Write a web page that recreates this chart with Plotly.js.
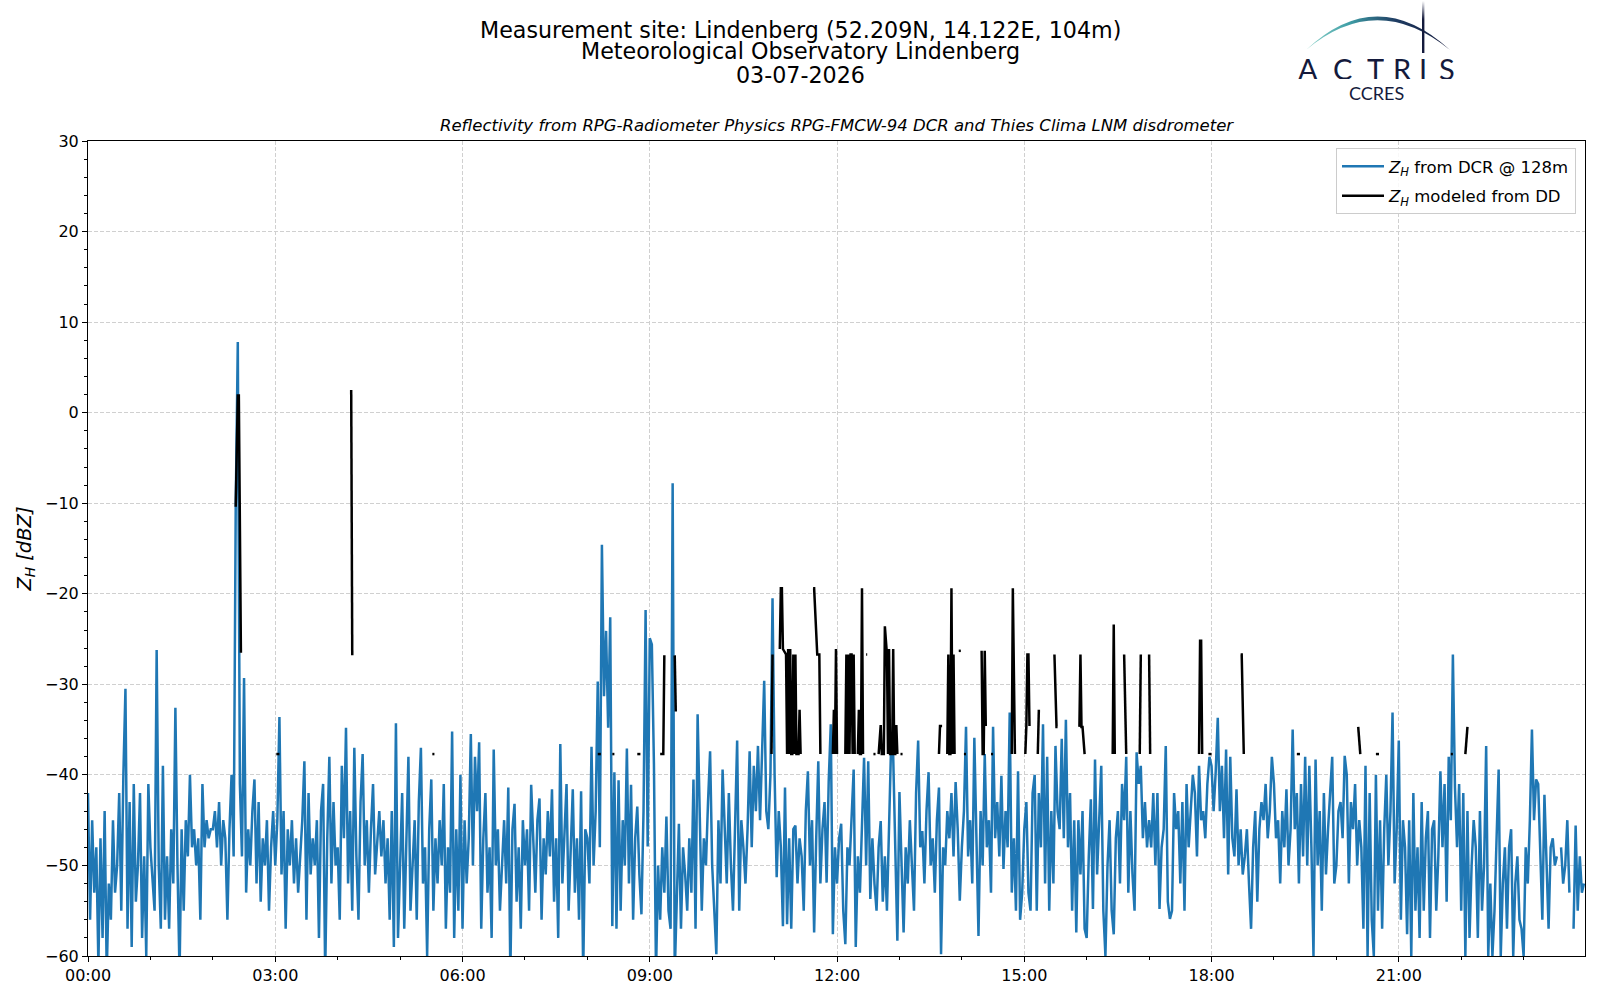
<!DOCTYPE html>
<html>
<head>
<meta charset="utf-8">
<script src="https://cdn.plot.ly/plotly-3.0.1.min.js"></script>
<style>
html,body{margin:0;padding:0;background:#ffffff;}
#chart{width:1600px;height:1000px;}
</style>
</head>
<body>
<div id="chart"></div>
<script>
// ---------------- DATA ----------------
const day = '2026-07-03';
const dcrStepMinutes = 2;

// Z_H from DCR @ 128m (dBZ), one row per hour, 2-minute steps
const h00 = [-42,-56,-45,-53,-48,-61,-47,-58,-44,-62,-52,-56,-45,-53,-50,-42,-55,-40,-30.5,-57,-43,-59,-41,-54,-50,-42,-58,-49,-60,-41];
const h01 = [-48,-52,-55,-26.2,-50,-57,-39,-56,-49,-57,-46,-52,-32.6,-50,-62,-46,-55,-45,-49,-40,-48,-46,-50,-47,-56,-41,-48,-45,-47,-46];
const h02 = [-46,-44,-48,-43,-50,-45,-47,-56,-46,-40,-49,-10.4,7.8,-41,-49,-29.3,-53,-46,-50,-44,-40.5,-52,-43,-54,-47,-50,-45,-55,-48,-44];
const h03 = [-50,-45,-33.6,-51,-44,-57,-46,-50,-45,-52,-47,-53,-49,-45,-38.5,-56,-42,-51,-47,-50,-45,-58,-44,-41,-62,-47,-38,-52,-43,-50];
const h04 = [-48,-56,-39,-47,-34.8,-52,-44,-55,-37,-49,-56,-43,-37.7,-50,-45,-53,-46,-41,-51,-48,-44,-49,-45,-52,-47,-56,-44,-59,-34.3,-58];
const h05 = [-51,-42,-57,-47,-38,-55,-49,-45,-56,-43,-37,-52,-48,-60,-46,-40.5,-55,-47,-52,-45,-50,-41,-57,-48,-53,-35.2,-58,-46,-55,-40];
const h06 = [-57,-45,-52,-47,-35.5,-50,-38,-44,-36.4,-57,-47,-42,-53,-48,-58,-37.2,-50,-46,-55,-49,-45,-52,-41.4,-62,-46,-43.2,-54,-48,-57,-45];
const h07 = [-50,-46,-55,-41.1,-48,-53,-45,-42.6,-56,-47,-51,-44,-49,-41.6,-54,-47,-58,-36.6,-52,-46,-41,-55,-48,-41.6,-53,-47,-56,-41.8,-62,-46];
const h08 = [-47,-52,-36.9,-50,-44,-29.7,-48,-14.6,-31.3,-24.1,-34.8,-22.6,-56.7,-39.7,-57,-40.6,-55,-45,-50,-37.1,-52,-41.1,-56,-47,-43.5,-51,-55.4,-44,-21.8,-47.9];
const h09 = [-24.9,-25.6,-38.8,-62,-50,-56,-48,-53,-44.6,-55,-57,-7.8,-62,-52,-45.4,-57,-48,-51,-55,-47,-53,-40.5,-57,-33.3,-44,-55,-47,-50,-43,-37.4];
const h10 = [-50,-55,-59.8,-45,-52,-39.4,-47,-52,-42,-50,-55,-46,-36.2,-55,-45,-48,-52,-46,-37.4,-48,-39,-44,-36.8,-45,-38,-29.6,-44,-46,-40,-20.5];
const h11 = [-40,-51.3,-44,-48,-56.7,-41.4,-56.5,-47,-57,-46,-45.6,-52,-47,-49,-55,-44,-39.6,-50,-45,-57.4,-47,-38.5,-52,-46,-43,-51.9,-40.7,-34.4,-57.6,-48];
const h12 = [-52,-47,-45.4,-55,-58.7,-48,-50,-44,-39.4,-59,-49,-53,-46,-38.1,-50,-38.5,-53.7,-47,-52,-55,-48,-45.1,-54,-49,-55,-44,-36.6,-37.9,-50,-58.3];
const h13 = [-41.9,-50,-57.4,-48,-52,-45,-50,-55,-42,-36.2,-48,-46.2,-52,-44,-39.7,-50,-47,-53,-45,-41.4,-59.8,-48,-50,-44,-47,-42,-49,-40.8,-46,-53.9];
const h14 = [-48,-44,-34.7,-49,-45,-52,-35.9,-47,-57.8,-44,-50,-37.7,-48,-45,-53,-34.7,-47,-43,-49,-40.1,-50.4,-44,-48,-33.1,-53,-47,-55,-39.6,-56,-53];
const h15 = [-46,-43,-53,-55,-42,-40,-55,-42,-48,-34.4,-52,-38,-55,-44,-52,-36.8,-44,-46,-36,-47,-33.9,-48,-42,-55,-45,-57.4,-45,-51,-44,-57];
const h16 = [-58,-49,-42.7,-54.8,-38.3,-51,-44,-39,-55,-60,-50,-45,-55,-57.6,-47,-44,-52,-41,-45,-38,-53,-44,-51,-55,-37.5,-41,-39,-47,-43,-48];
const h17 = [-45,-48,-42,-50,-42,-54.8,-48,-46,-36.8,-54,-55.9,-55,-42,-46,-44,-52,-43,-55,-41,-48,-44,-40,-42,-49,-39,-45,-44,-47,-41,-38];
const h18 = [-39,-44,-39.7,-33.7,-44,-39,-47,-37.2,-51,-38,-47,-49,-41.6,-50,-46,-51,-49,-46,-52,-57,-48,-44,-54,-46,-43,-45,-41,-47,-44,-38];
const h19 = [-41,-47,-45,-52,-44,-48,-41.6,-50,-46,-35,-46,-42,-52,-41,-49,-38,-50,-39,-48,-60,-38.3,-50,-44,-55,-42,-51,-46,-42,-38,-52];
const h20 = [-50,-44,-43,-47,-37.9,-40,-52,-43,-46,-41,-50,-45,-48,-57,-39,-60,-42,-56,-60,-40,-55,-45,-57,-46,-40,-50,-44,-33.1,-52,-46];
const h21 = [-36.2,-56,-45,-48,-57.6,-45,-60,-42,-55,-48,-58,-43,-55,-47,-44,-58,-46,-45,-55,-49,-39.6,-48,-41,-54,-38,-45,-26.7,-41.4,-48,-41];
const h22 = [-55,-42,-60,-44,-58,-50,-45,-48,-58,-44,-55,-50,-36.8,-60,-52,-60,-55,-47,-39.4,-60,-52,-48,-57,-48,-46,-60,-52,-49,-56,-57];
const h23 = [-60,-48,-52,-45,-35,-45,-40.5,-41,-50,-56,-42.2,-49,-57,-48,-47,-50,-49,null,-48,-52,-50,-45,-53,null,-57,-45.6,-55,-49,-53,-52];

// Z_H modeled from disdrometer: separate events (times HH:MM, values dBZ)
const ddEventTimes = [
  ['02:22','02:24','02:25','02:27'],
  ['03:01','03:04'],
  ['04:13','04:14'],
  ['05:31','05:33'],
  ['08:10','08:13'],
  ['08:24','08:26'],
  ['08:48','08:51'],
  ['09:10','09:13','09:14'],
  ['09:24','09:25'],
  ['10:57','10:58'],
  ['11:05','11:06','11:07','11:08','11:11','11:12','11:13','11:14','11:15','11:16','11:17','11:18','11:19','11:20','11:21','11:23','11:24','11:25'],
  ['11:37','11:38','11:41','11:43','11:44'],
  ['11:56','11:57','11:58','11:59','12:00'],
  ['12:08','12:09','12:10','12:11','12:12','12:13','12:14','12:15','12:16','12:17'],
  ['12:20','12:21','12:22','12:23','12:24','12:25'],
  ['12:28','12:29'],
  ['12:35','12:37'],
  ['12:40','12:42','12:43','12:45','12:46','12:48','12:49','12:50','12:51','12:53','12:54','12:55','12:56','12:57','12:58'],
  ['13:01','13:03'],
  ['13:38','13:39','13:41'],
  ['13:46','13:47','13:48','13:49','13:50','13:51','13:52','13:53'],
  ['13:57','13:59'],
  ['14:02','14:04'],
  ['14:19','14:20','14:21','14:22','14:23'],
  ['14:28','14:30'],
  ['14:48','14:49','14:51'],
  ['15:01','15:02','15:03','15:04','15:05'],
  ['15:13','15:14'],
  ['15:29','15:31','15:32'],
  ['15:53','15:54','15:55','15:56','15:58'],
  ['16:25','16:26','16:27'],
  ['16:36','16:38'],
  ['16:51','16:52'],
  ['17:00','17:01'],
  ['17:48','17:49','17:50','17:51'],
  ['17:57','18:00'],
  ['18:28','18:29','18:31'],
  ['19:22','19:25'],
  ['20:21','20:23'],
  ['20:38','20:41'],
  ['21:50','21:52'],
  ['22:04','22:06']
];
const ddEventZ = [
  [-10.4,1.9,1.9,-26.5],
  [-37.7,-37.7],
  [2.5,-26.8],
  [-37.7,-37.7],
  [-37.7,-37.7],
  [-37.7,-37.7],
  [-37.7,-37.7],
  [-37.7,-37.7,-26.8],
  [-26.8,-33.0],
  [-37.7,-26.7],
  [-26.1,-19.4,-19.4,-26.1,-26.7,-37.7,-26.1,-37.7,-26.1,-37.7,-37.7,-26.7,-37.7,-26.7,-37.7,-37.7,-32.8,-37.7],
  [-19.4,-19.4,-26.7,-26.7,-37.7],
  [-37.7,-32.8,-37.7,-26.1,-37.7],
  [-37.7,-26.7,-37.7,-26.7,-37.7,-26.7,-26.7,-37.7,-26.7,-37.7],
  [-37.7,-32.8,-37.7,-37.7,-19.4,-37.7],
  [-26.7,-26.7],
  [-37.7,-37.7],
  [-37.7,-34.5,-37.7,-37.7,-23.6,-26.7,-37.7,-26.1,-37.7,-37.7,-26.1,-37.7,-37.7,-34.5,-37.7],
  [-37.7,-37.7],
  [-37.7,-34.6,-34.6],
  [-37.7,-26.7,-37.7,-37.7,-19.4,-37.7,-26.7,-37.7],
  [-26.3,-26.3],
  [-37.7,-37.7],
  [-26.3,-37.7,-37.7,-26.3,-34.6],
  [-37.7,-37.7],
  [-37.7,-19.4,-37.7],
  [-37.7,-34.6,-26.7,-26.7,-34.6],
  [-37.7,-32.8],
  [-26.7,-34.7,-34.7],
  [-34.7,-26.7,-34.7,-34.7,-37.7],
  [-37.7,-23.4,-37.7],
  [-26.7,-37.7],
  [-37.7,-26.7],
  [-26.7,-37.7],
  [-37.7,-25.2,-25.2,-37.7],
  [-37.7,-37.7],
  [-26.7,-26.7,-37.7],
  [-37.7,-37.7],
  [-34.7,-37.7],
  [-37.7,-37.7],
  [-37.7,-37.7],
  [-37.7,-34.7]
];

const titleLines = ['Measurement site: Lindenberg (52.209N, 14.122E, 104m)', 'Meteorological Observatory Lindenberg', '03-07-2026'];
const subTitle = 'Reflectivity from RPG-Radiometer Physics RPG-FMCW-94 DCR and Thies Clima LNM disdrometer';
const seriesNames = ['<i>Z</i><sub><i>H</i></sub> from DCR @ 128m', '<i>Z</i><sub><i>H</i></sub> modeled from DD'];
const yTitle = '<i>Z</i><sub><i>H</i></sub> <i>[dBZ]</i>';
const logoLetters = ['A','C','T','R','I','S'];
const logoSub = 'CCRES';

// ---------------- BUILD ----------------
function pad(n){ return (n < 10 ? '0' : '') + n; }
const dcrHours = [h00,h01,h02,h03,h04,h05,h06,h07,h08,h09,h10,h11,h12,h13,h14,h15,h16,h17,h18,h19,h20,h21,h22,h23];
const dcrTime = [], dcrZ = [];
dcrHours.forEach((row, h) => {
  row.forEach((v, i) => {
    const m = i * dcrStepMinutes;
    dcrTime.push(day + ' ' + pad(h) + ':' + pad(m));
    dcrZ.push(v);
  });
});
const ddTime = [], ddZ = [];
ddEventTimes.forEach((ts, k) => {
  ts.forEach((t, i) => { ddTime.push(day + ' ' + t); ddZ.push(ddEventZ[k][i]); });
  ddTime.push(day + ' ' + ts[ts.length - 1]); ddZ.push(null);
});

// ---------------- LAYOUT ----------------
const W = 1600, H = 1000, ML = 88, MR = 15, MT = 141, MB = 44;
const PW = W - ML - MR, PH = H - MT - MB;
const px = X => (X - ML) / PW;
const py = Y => (H - MB - Y) / PH;
const FONT = 'DejaVu Sans, Verdana, sans-serif';
const NAVY = '#141a3c';

const annotations = [];
const titleY = [29.6, 51.5, 74.5];
titleLines.forEach((t, i) => annotations.push({
  text: t, xref: 'paper', yref: 'paper', x: px(800), y: py(titleY[i]),
  xanchor: 'center', yanchor: 'middle', showarrow: false,
  font: { family: FONT, size: 22.2, color: '#000000' }
}));
annotations.push({
  text: '<i>' + subTitle + '</i>', xref: 'paper', yref: 'paper', x: 0.5, y: py(125.5),
  xanchor: 'center', yanchor: 'middle', showarrow: false,
  font: { family: FONT, size: 16.5, color: '#000000' }
});
const letterX = [1308, 1342, 1375, 1402, 1423, 1447];
logoLetters.forEach((ch, i) => annotations.push({
  text: ch, xref: 'paper', yref: 'paper', x: px(letterX[i]), y: py(67.5),
  xanchor: 'center', yanchor: 'middle', showarrow: false, height: 22,
  font: { family: 'Lato, Noto Sans, sans-serif', size: 29, color: NAVY }
}));
annotations.push({
  text: logoSub, xref: 'paper', yref: 'paper', x: px(1376.5), y: py(92.5),
  xanchor: 'center', yanchor: 'middle', showarrow: false, height: 15,
  font: { family: 'Lato, Noto Sans, sans-serif', size: 18, color: NAVY }
});

const arcSvg = '<svg xmlns="http://www.w3.org/2000/svg" width="160" height="60" viewBox="0 0 160 60">' +
  '<defs><linearGradient id="g" x1="0" y1="0" x2="1" y2="0">' +
  '<stop offset="0" stop-color="#8fd4cb"/><stop offset="0.3" stop-color="#3f9ea6"/>' +
  '<stop offset="0.62" stop-color="#1f3d63"/><stop offset="1" stop-color="#141a3c"/></linearGradient>' +
  '<linearGradient id="v" x1="0" y1="0" x2="0" y2="1"><stop offset="0" stop-color="#141a3c" stop-opacity="0"/>' +
  '<stop offset="0.35" stop-color="#141a3c" stop-opacity="1"/></linearGradient></defs>' +
  '<path d="M8 50 Q79 -17 152 50 Q79 -9.5 8 50 Z" fill="url(#g)"/>' +
  '<rect x="124" y="1" width="2.4" height="52" fill="url(#v)"/></svg>';

const axisCommon = {
  showline: true, linecolor: '#000000', linewidth: 1, mirror: true,
  ticks: 'outside', ticklen: 5, tickwidth: 1, tickcolor: '#000000',
  showgrid: true, gridcolor: '#d0d0d0', griddash: '4px,2px', gridwidth: 1,
  zeroline: false, tickfont: { family: FONT, size: 16, color: '#000000' }
};

const layout = {
  width: W, height: H,
  margin: { l: ML, r: MR, t: MT, b: MB, pad: 0 },
  paper_bgcolor: '#ffffff', plot_bgcolor: '#ffffff',
  font: { family: FONT, color: '#000000' },
  showlegend: true,
  legend: {
    x: px(1576), xanchor: 'right', y: py(148), yanchor: 'top',
    bgcolor: 'rgba(255,255,255,0.85)', bordercolor: '#cccccc', borderwidth: 1,
    font: { family: FONT, size: 16.5, color: '#000000' }, tracegroupgap: 5, itemwidth: 42
  },
  xaxis: Object.assign({}, axisCommon, {
    type: 'date', range: [day + ' 00:00', day + ' 23:59'],
    tickformat: '%H:%M', tick0: day + ' 00:00', dtick: 3 * 3600000,
    minor: { dtick: 3600000, ticks: 'outside', ticklen: 3, tickcolor: '#000000', showgrid: false }
  }),
  yaxis: Object.assign({}, axisCommon, {
    range: [-60, 30], tick0: 0, dtick: 10,
    title: { text: yTitle, font: { family: FONT, size: 19.5, color: '#000000' }, standoff: 8 },
    minor: { dtick: 2, ticks: 'outside', ticklen: 3, tickcolor: '#000000', showgrid: false }
  }),
  annotations: annotations,
  images: [{
    source: 'data:image/svg+xml;charset=utf-8,' + encodeURIComponent(arcSvg),
    xref: 'paper', yref: 'paper', x: px(1298), y: py(0),
    sizex: 160 / PW, sizey: 60 / PH, xanchor: 'left', yanchor: 'top',
    sizing: 'stretch', layer: 'above'
  }]
};

const traces = [
  { x: dcrTime, y: dcrZ, type: 'scatter', mode: 'lines', name: seriesNames[0],
    legendgroup: 'dcr', connectgaps: false, line: { color: '#1f77b4', width: 2.5 } },
  { x: ddTime, y: ddZ, type: 'scatter', mode: 'lines', name: seriesNames[1],
    legendgroup: 'dd', connectgaps: false, line: { color: '#000000', width: 2.5 } }
];

Plotly.newPlot('chart', traces, layout, { displayModeBar: false, staticPlot: true });
</script>
</body>
</html>
